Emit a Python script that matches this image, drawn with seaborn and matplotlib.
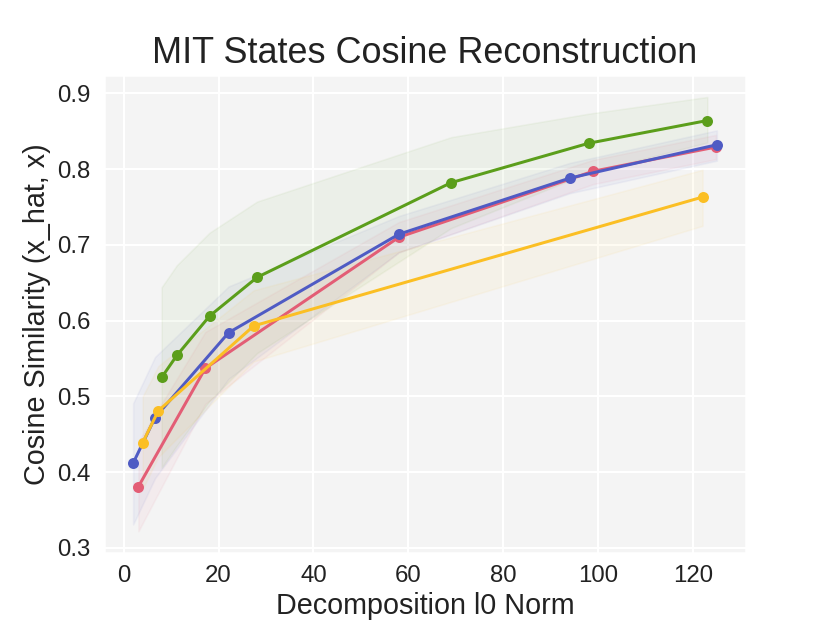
import matplotlib
matplotlib.use("Agg")
import matplotlib.pyplot as plt
import seaborn as sns
import pandas as pd

# ---- data ----
red_x = [3.1, 17.2, 58.0, 98.9, 124.8]
red_y = [0.381, 0.537, 0.710, 0.797, 0.829]
red_lo = [0.322, 0.490, 0.690, 0.780, 0.813]
red_hi = [0.440, 0.585, 0.730, 0.812, 0.845]

blue_x = [2.0, 6.6, 22.1, 58.0, 94.0, 125.0]
blue_y = [0.412, 0.472, 0.584, 0.714, 0.788, 0.832]
blue_lo = [0.331, 0.392, 0.523, 0.690, 0.768, 0.811]
blue_hi = [0.491, 0.552, 0.645, 0.738, 0.808, 0.851]

green_x = [8.0, 11.2, 18.1, 28.1, 69.0, 98.0, 123.0]
green_y = [0.525, 0.554, 0.606, 0.657, 0.782, 0.834, 0.864]
green_lo = [0.406, 0.435, 0.494, 0.557, 0.722, 0.795, 0.835]
green_hi = [0.644, 0.673, 0.716, 0.757, 0.842, 0.873, 0.895]

yellow_x = [4.0, 7.3, 27.4, 122.0]
yellow_y = [0.439, 0.481, 0.593, 0.763]
yellow_lo = [0.378, 0.420, 0.546, 0.725]
yellow_hi = [0.500, 0.540, 0.640, 0.799]

series_names = ["red", "blue", "green", "yellow"]
colors = ["#e35d75", "#4f5bc4", "#5b9e1b", "#fbbf24"]

title = "MIT States Cosine Reconstruction"
xlabel = "Decomposition l0 Norm"
ylabel = "Cosine Similarity (x_hat, x)"
xticks = [0, 20, 40, 60, 80, 100, 120]
yticks = [0.3, 0.4, 0.5, 0.6, 0.7, 0.8, 0.9]
ytick_labels = ["0.3", "0.4", "0.5", "0.6", "0.7", "0.8", "0.9"]

# ---- build long-form table ----
series = [
    (red_x, red_y, red_lo, red_hi),
    (blue_x, blue_y, blue_lo, blue_hi),
    (green_x, green_y, green_lo, green_hi),
    (yellow_x, yellow_y, yellow_lo, yellow_hi),
]
rows = []
for name, (xs, ys, lo, hi) in zip(series_names, series):
    for a, b, c, d in zip(xs, ys, lo, hi):
        rows.append({"method": name, "l0": a, "cos": b, "lo": c, "hi": d})
df = pd.DataFrame(rows)

sns.set_theme(style="darkgrid")
plt.rcParams["font.family"] = ["Liberation Sans", "DejaVu Sans"]
plt.rcParams["axes.facecolor"] = "#f4f4f4"
plt.rcParams["grid.color"] = "white"
plt.rcParams["grid.linewidth"] = 1.0

fig = plt.figure(figsize=(830 / 144, 623 / 144), dpi=144)
ax = fig.add_subplot(111)
fig.subplots_adjust(left=104 / 830, right=746 / 830,
                    top=1 - 75.3 / 623, bottom=1 - 553.0 / 623)

palette = dict(zip(series_names, colors))
for name in series_names:
    sub = df[df["method"] == name]
    ax.fill_between(sub["l0"], sub["lo"], sub["hi"],
                    color=palette[name], alpha=0.055, linewidth=0.8)

sns.lineplot(data=df, x="l0", y="cos", hue="method", hue_order=series_names,
             palette=palette, marker="o", markersize=5.5, markeredgewidth=0,
             linewidth=1.5, errorbar=None, sort=False, legend=False, ax=ax)

ax.set_title(title, fontsize=18, color="#222222", pad=6)
ax.set_xlabel(xlabel, fontsize=14.4, color="#222222", labelpad=2.5)
ax.set_ylabel(ylabel, fontsize=14.4, color="#222222", labelpad=3)
ax.tick_params(axis="both", labelsize=12, colors="#222222", length=0)
ax.tick_params(axis="x", pad=6)
ax.tick_params(axis="y", pad=7)
ax.set_xticks(xticks)
ax.set_yticks(yticks)
ax.set_yticklabels(ytick_labels)

fig.savefig("out.png", dpi=144)
